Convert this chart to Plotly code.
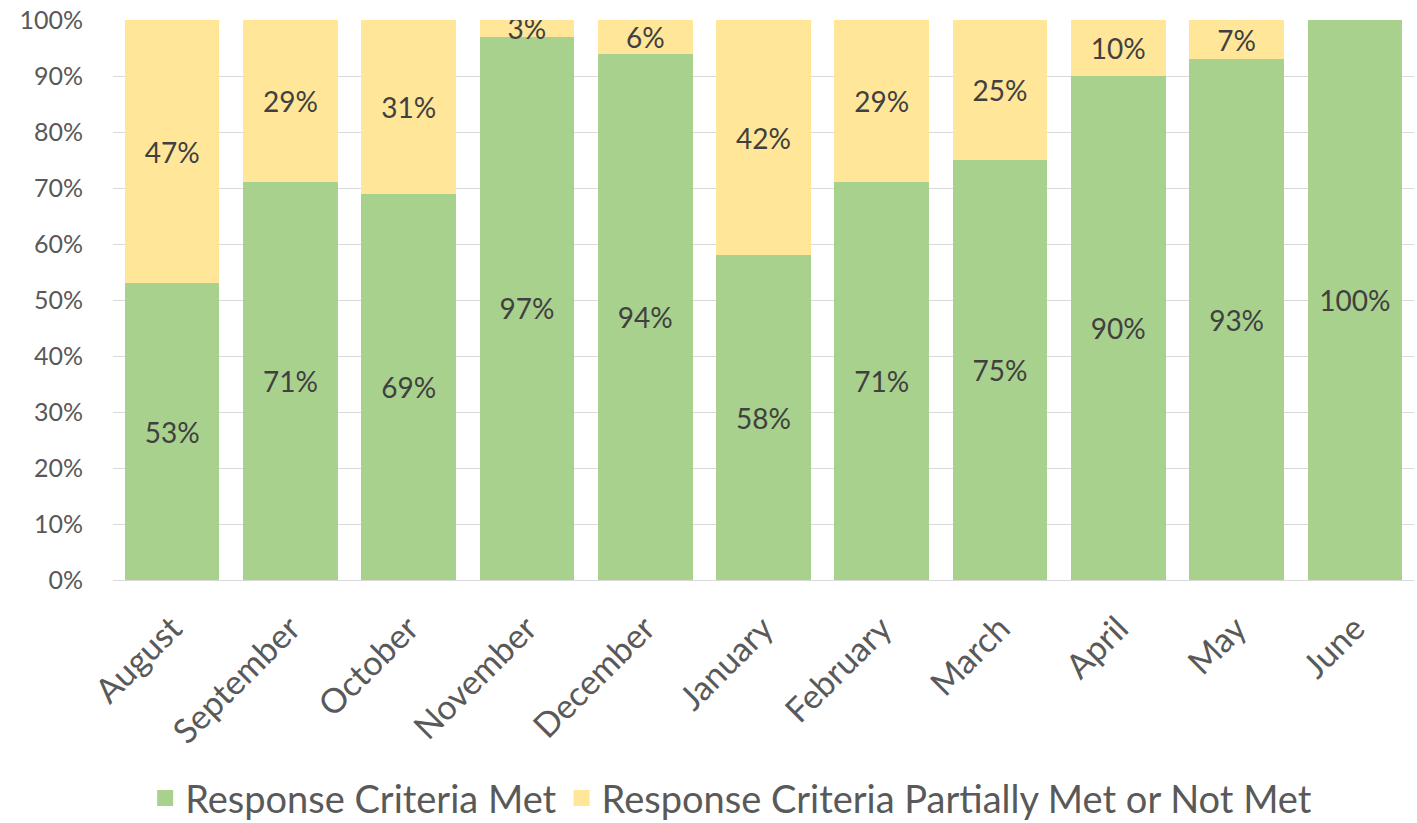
import plotly.graph_objects as go

months = ["August", "September", "October", "November", "December", "January",
          "February", "March", "April", "May", "June"]
met = [53, 71, 69, 97, 94, 58, 71, 75, 90, 93, 100]
not_met = [47, 29, 31, 3, 6, 42, 29, 25, 10, 7, 0]
y_ticks = [0, 10, 20, 30, 40, 50, 60, 70, 80, 90, 100]
y_tick_labels = [f"{v}%" for v in y_ticks]

GREEN = "#A9D18E"
YELLOW = "#FFE699"
FONT = "Lato"
LABEL_FONT = dict(family=FONT, size=28, color="#404040")

fig = go.Figure()
fig.add_trace(go.Bar(
    x=months, y=met, name="Response Criteria Met",
    marker=dict(color=GREEN, line=dict(width=0)),
    text=[f"{v}%" if v else "" for v in met], textposition="inside",
    insidetextanchor="middle", constraintext="none", textangle=0,
    textfont=LABEL_FONT, showlegend=False,
))
fig.add_trace(go.Bar(
    x=months, y=not_met, name="Response Criteria Partially Met or Not Met",
    marker=dict(color=YELLOW, line=dict(width=0)),
    text=[f"{v}%" if v else "" for v in not_met], textposition="inside",
    insidetextanchor="middle", constraintext="none", textangle=0,
    textfont=LABEL_FONT, showlegend=False,
))
# legend entries
fig.add_trace(go.Scatter(x=[None], y=[None], mode="markers", name="Response Criteria Met",
                         marker=dict(symbol="square", size=24, color=GREEN)))
fig.add_trace(go.Scatter(x=[None], y=[None], mode="markers",
                         name="Response Criteria Partially Met or Not Met",
                         marker=dict(symbol="square", size=24, color=YELLOW)))

fig.update_layout(
    template="none",
    width=1417, height=823,
    barmode="stack", bargap=0.2,
    paper_bgcolor="white", plot_bgcolor="white",
    margin=dict(l=113, r=3, t=20, b=243),
    font=dict(family=FONT, color="#595959"),
    legend=dict(orientation="h", xref="container", yref="container",
                x=0.516, xanchor="center", y=0.03, yanchor="middle",
                font=dict(family=FONT, size=38, color="#595959"),
                itemsizing="trace", traceorder="normal"),
    xaxis=dict(tickangle=-45, tickfont=dict(family=FONT, size=34, color="#595959"),
               showline=True, linecolor="#D9D9D9", linewidth=1,
               ticks="outside", ticklen=14, tickcolor="rgba(0,0,0,0)",
               showgrid=False, automargin=False),
    yaxis=dict(range=[0, 100], tickvals=y_ticks, ticktext=y_tick_labels,
               tickfont=dict(family=FONT, size=25, color="#595959"),
               showgrid=True, gridcolor="#D9D9D9", gridwidth=1,
               zeroline=True, zerolinecolor="#D9D9D9", zerolinewidth=1,
               ticks="outside", ticklen=24, tickcolor="rgba(0,0,0,0)",
               showline=False, automargin=False),
)

fig.write_html("out.html", config={"displayModeBar": False},
               post_script="document.body.style.margin='0';document.body.style.overflow='hidden';")
